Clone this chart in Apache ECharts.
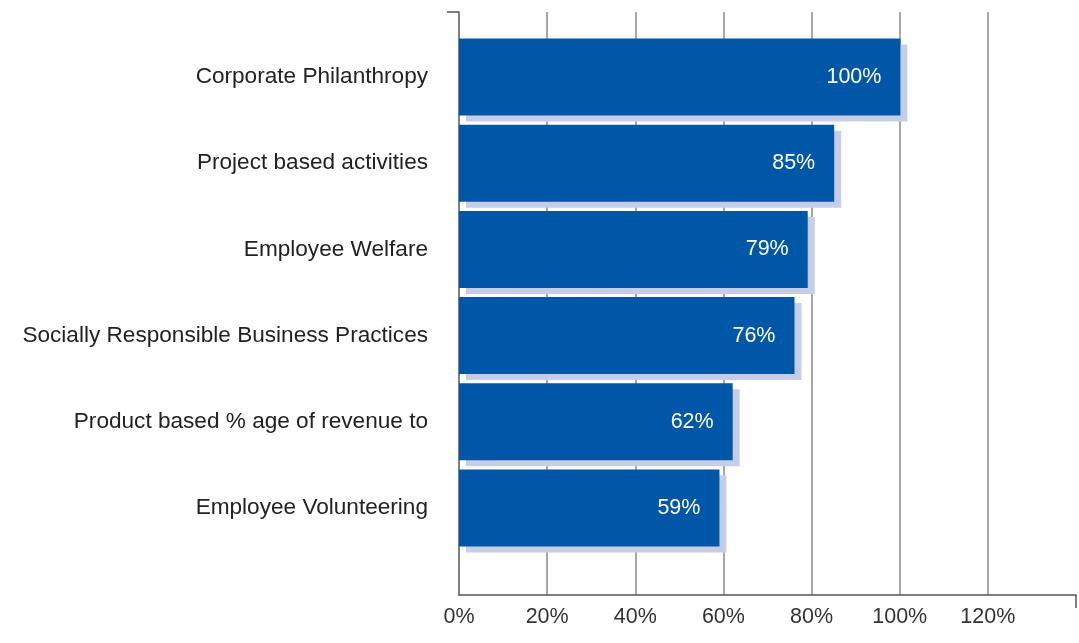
<!DOCTYPE html>
<html>
<head>
<meta charset="utf-8">
<script src="https://cdn.jsdelivr.net/npm/echarts@6/dist/echarts.min.js"></script>
<style>
  html, body { margin: 0; padding: 0; background: #fff; }
  #chart { width: 1079px; height: 643px; }
</style>
</head>
<body>
<div id="chart"></div>
<script>
// CSR focus areas and share of companies engaged in each
const categories = [
  'Corporate Philanthropy',
  'Project based activities',
  'Employee Welfare',
  'Socially Responsible Business Practices',
  'Product based % age of revenue to',
  'Employee Volunteering'
];
const shares = [100, 85, 79, 76, 62, 59];
const xMax = 140;
const xStep = 20;

const FONT = '"Liberation Sans", Arial, sans-serif';
const AXIS_LINE = { color: '#555', width: 1.5 };

const chart = echarts.init(document.getElementById('chart'), null, { renderer: 'canvas' });

chart.setOption({
  animation: false,
  backgroundColor: '#ffffff',
  grid: [
    // frame: axis lines, gridlines and percentage ticks
    { left: 459, right: 2, top: 12, bottom: 48 },
    // bars
    { left: 459, right: 2, top: 34, bottom: 92 }
  ],
  xAxis: [
    {
      gridIndex: 0,
      type: 'value',
      position: 'bottom',
      min: 0,
      max: xMax,
      interval: xStep,
      axisLine: { show: true, lineStyle: AXIS_LINE },
      axisTick: { show: false },
      axisLabel: {
        margin: 11,
        color: '#333',
        fontFamily: FONT,
        fontSize: 21.5,
        formatter: v => (v >= xMax ? '' : v + '%')
      },
      splitLine: {
        show: true,
        showMinLine: false,
        showMaxLine: false,
        lineStyle: { color: '#8a8a8a', width: 1.5 }
      }
    },
    {
      gridIndex: 1,
      type: 'value',
      min: 0,
      max: xMax,
      show: false
    },
    {
      // closing tick at the far end of the percentage axis
      gridIndex: 0,
      type: 'value',
      position: 'bottom',
      offset: 0,
      min: 0,
      max: xMax,
      interval: xMax,
      axisLine: { show: false },
      axisTick: { show: true, customValues: [xMax], length: 13, lineStyle: AXIS_LINE },
      axisLabel: { show: false },
      splitLine: { show: false }
    }
  ],
  yAxis: [
    {
      gridIndex: 0,
      type: 'value',
      min: 0,
      max: 1,
      interval: 1,
      axisLine: { show: true, lineStyle: AXIS_LINE },
      axisTick: { show: true, customValues: [1], length: 12, lineStyle: AXIS_LINE },
      axisLabel: { show: false },
      splitLine: { show: false }
    },
    {
      gridIndex: 1,
      type: 'category',
      inverse: true,
      data: categories,
      axisLine: { show: false },
      axisTick: { show: false },
      axisLabel: {
        margin: 31,
        color: '#222',
        fontFamily: FONT,
        fontSize: 22.6
      }
    }
  ],
  series: [
    {
      type: 'bar',
      xAxisIndex: 1,
      yAxisIndex: 1,
      data: shares,
      barWidth: 77,
      itemStyle: {
        color: '#0057a8',
        shadowColor: '#c6cde8',
        shadowOffsetX: 7,
        shadowOffsetY: 6,
        shadowBlur: 0
      },
      label: {
        show: true,
        position: 'insideRight',
        distance: 19,
        color: '#ffffff',
        fontFamily: FONT,
        fontSize: 21.5,
        formatter: p => p.value + '%'
      }
    }
  ]
});
</script>
</body>
</html>
